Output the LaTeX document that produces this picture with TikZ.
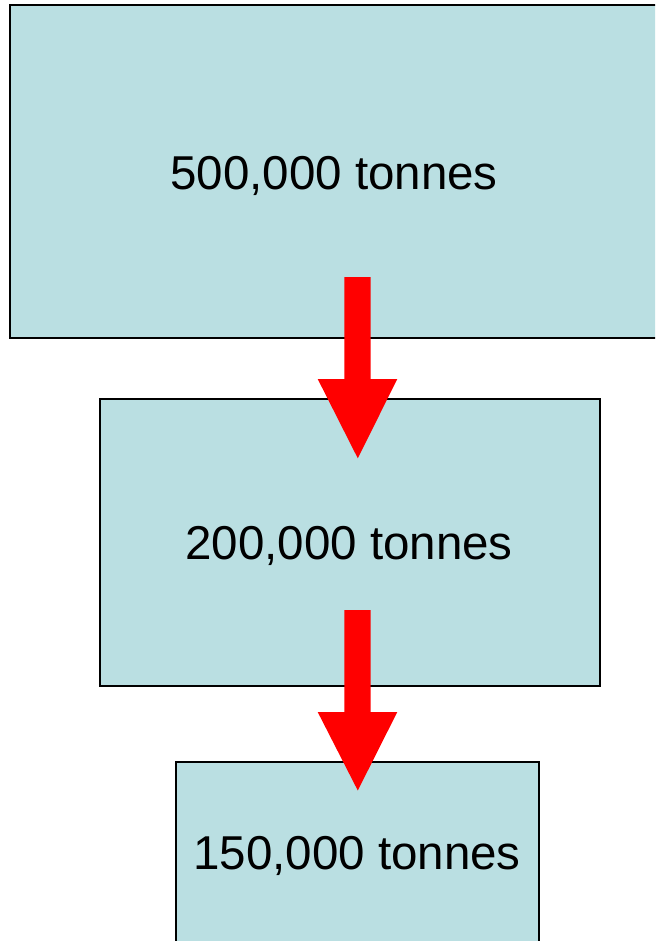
\documentclass[tikz,border=0pt]{standalone}
\usepackage{fontspec}
\setmainfont{Liberation Sans}
\definecolor{boxfill}{RGB}{186,223,226}
\definecolor{arrowred}{RGB}{255,0,0}
\begin{document}
\begin{tikzpicture}[x=1pt,y=-1pt,
  stage/.style={draw=black,line width=1.6pt,fill=boxfill},
  lbl/.style={font=\fontsize{47.5}{50}\selectfont,inner sep=0pt},
  bigarrow/.style={fill=arrowred}]
\useasboundingbox (0,0) rectangle (655,941);
\begin{scope}
\clip (0,0) rectangle (655,941);
\draw[stage] (10,5) rectangle (665,338);
\draw[stage] (100,399) rectangle (600,686);
\draw[stage] (176,762) rectangle (539,960);
\node[lbl] (a) at (334,176) {500,000 tonnes};
\node[lbl] (b) at (349,546) {200,000 tonnes};
\node[lbl] (c) at (357,856) {150,000 tonnes};
% arrows
\fill[bigarrow] (344.3,277) -- (370.7,277) -- (370.7,379) -- (397.3,379) -- (357.8,458.3) -- (317.7,379) -- (344.3,379) -- cycle;
\fill[bigarrow] (344.3,610) -- (370.7,610) -- (370.7,712) -- (397.3,712) -- (357.8,790.5) -- (317.7,712) -- (344.3,712) -- cycle;
\end{scope}
\end{tikzpicture}
\end{document}
